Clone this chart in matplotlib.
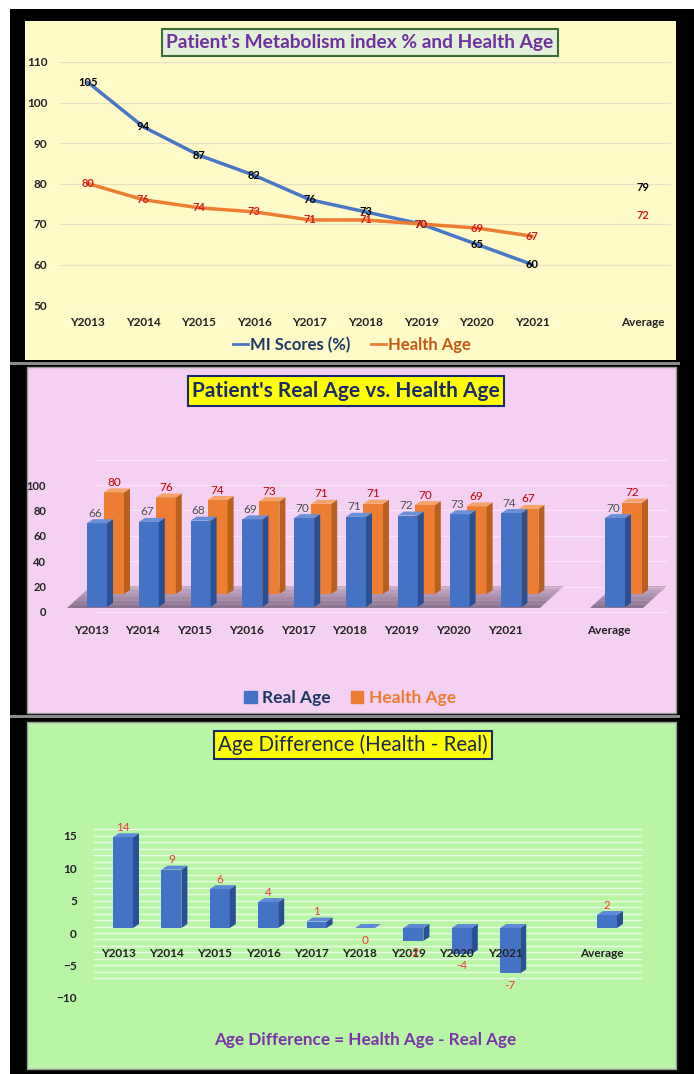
import numpy as np
import matplotlib
matplotlib.use("Agg")
import matplotlib.pyplot as plt
from matplotlib.patches import Rectangle, Polygon, Patch
from matplotlib.lines import Line2D

plt.rcParams["font.family"] = ["Lato", "DejaVu Sans"]

# ---- data ----
years = ["Y2013", "Y2014", "Y2015", "Y2016", "Y2017", "Y2018", "Y2019", "Y2020", "Y2021"]
avg_label = "Average"
mi_scores = [105, 94, 87, 82, 76, 73, 70, 65, 60]
mi_avg = 79
health_age = [80, 76, 74, 73, 71, 71, 70, 69, 67]
health_avg = 72
real_age = [66, 67, 68, 69, 70, 71, 72, 73, 74]
real_avg = 70
age_diff = [h - r for h, r in zip(health_age, real_age)]
diff_avg = health_avg - real_avg

tick_names = years + ["", avg_label]
xpos = list(range(len(years)))
avg_pos = len(years) + 1

W, H = 694, 1074
fig = plt.figure(figsize=(W / 100, H / 100), dpi=100)


def fx(px):
    return px / W


def fy(py):
    return 1 - py / H


def fig_rect(x0, y0, x1, y1, **kw):
    fig.patches.append(Rectangle((fx(x0), fy(y1)), (x1 - x0) / W, (y1 - y0) / H,
                                 transform=fig.transFigure, zorder=-5, **kw))


def axes_px(left, top, right, bottom):
    ax = fig.add_axes([fx(left), fy(bottom), (right - left) / W, (bottom - top) / H])
    ax.patch.set_visible(False)
    for s in ax.spines.values():
        s.set_visible(False)
    return ax


# ---- backgrounds ----
fig_rect(10, 9, 694, 1074, facecolor="black", edgecolor="none")
fig_rect(25, 21, 676, 360, facecolor="#FFFBC9", edgecolor="none")
fig_rect(10, 362, 680, 365, facecolor="#8a8a8a", edgecolor="none")
fig_rect(27, 367, 676, 713, facecolor="#F4D0F2", edgecolor="#9a9a9a", lw=1.0)
fig_rect(10, 715, 680, 718, facecolor="#8a8a8a", edgecolor="none")
fig_rect(27, 722, 676, 1069, facecolor="#B9F5A7", edgecolor="#9a9a9a", lw=1.0)

# =========================================================
# Panel 1: metabolism index and health age lines
# =========================================================
ax1 = axes_px(60, 62, 671, 305)
ax1.set_xlim(-0.5, 10.5)
ax1.set_ylim(50, 110)
ax1.set_yticks(range(50, 111, 10))
ax1.grid(axis="y", color="#E6E2C3", lw=0.9)
ax1.set_axisbelow(True)
ax1.set_xticks(range(len(tick_names)), tick_names)
ax1.tick_params(length=0, labelsize=8.5, colors="#222222")
ax1.tick_params(axis="x", pad=9)
ax1.tick_params(axis="y", pad=9)
for t in ax1.get_xticklabels() + ax1.get_yticklabels():
    t.set_fontweight("bold")

ax1.plot(xpos, mi_scores, color="#4A76C6", lw=2.5, solid_capstyle="round")
ax1.plot(xpos, health_age, color="#ED7D31", lw=2.5, solid_capstyle="round")
for i, v in enumerate(mi_scores):
    ax1.text(i, v, str(v), ha="center", va="center", fontsize=8,
             fontweight="bold", color="black")
for i, v in enumerate(health_age):
    ax1.text(i, v, str(v), ha="center", va="center", fontsize=8,
             fontweight="bold", color="#D02020")
ax1.text(avg_pos, mi_avg, str(mi_avg), ha="center", va="center", fontsize=8,
         fontweight="bold", color="black")
ax1.text(avg_pos, health_avg, str(health_avg), ha="center", va="center", fontsize=8,
         fontweight="bold", color="#D02020")

fig.text(fx(360), fy(42.5), "Patient's Metabolism index % and Health Age",
         ha="center", va="center", fontsize=13.8, fontweight="bold", color="#7030A0",
         bbox=dict(boxstyle="square,pad=0.25", fc="#E2F0D9", ec="#3D6B35", lw=1.5))

fig.legend(handles=[Line2D([], [], color="#4A76C6", lw=2),
                    Line2D([], [], color="#ED7D31", lw=2)],
           labels=["MI Scores (%)", "Health Age"], ncol=2, frameon=False,
           loc="center", bbox_to_anchor=(fx(352), fy(345)),
           handlelength=0.9, handletextpad=0.15, columnspacing=1.2,
           prop=dict(weight="bold", size=12),
           labelcolor=["#1F3864", "#C55A11"])

# =========================================================
# Panel 2: real age vs health age, 3-D style columns
# =========================================================
X0_2, SX_2 = 91.0, 51.8     # px position of first category, px per category
Y0_2, SY_2 = 612.0, 1.27    # px position of value 0, px per value unit
L2, T2, R2, B2 = 60, 440, 672, 614
ax2 = axes_px(L2, T2, R2, B2)
ax2.set_xlim((L2 - X0_2) / SX_2, (R2 - X0_2) / SX_2)
ax2.set_ylim((Y0_2 - B2) / SY_2, (Y0_2 - T2) / SY_2)
ax2.set_yticks(range(0, 101, 20))
ax2.set_xticks(range(len(tick_names)), tick_names)
ax2.tick_params(length=0, labelsize=8.5, colors="#222222")
ax2.tick_params(axis="x", pad=8)
ax2.tick_params(axis="y", pad=10, labelsize=8)
for t in ax2.get_xticklabels() + ax2.get_yticklabels():
    t.set_fontweight("bold")

gx0, gx1 = (95 - X0_2) / SX_2, (668 - X0_2) / SX_2
ax2.hlines(range(0, 121, 20), gx0, gx1, color="white", lw=0.8, alpha=0.45, zorder=0)


def bar3d(ax, xs, vals, width, off, depth, cols, z, sx, sy):
    """Front faces via ax.bar, plus side and top faces offset by a depth vector (px)."""
    ox, oy = off[0] / sx, off[1] / sy
    dx, dy = depth[0] / sx, depth[1] / sy
    xs = np.asarray(xs, dtype=float)
    vals = np.asarray(vals, dtype=float)
    ax.bar(xs + ox, vals, width, bottom=oy, color=cols[0], zorder=z, clip_on=False)
    for xc, v in zip(xs, vals):
        x0 = xc + ox - width / 2
        x1 = x0 + width
        lo, hi = min(oy, oy + v), max(oy, oy + v)
        ax.add_patch(Polygon([(x1, lo), (x1 + dx, lo + dy), (x1 + dx, hi + dy), (x1, hi)],
                             closed=True, fc=cols[1], ec="none", zorder=z, clip_on=False))
        ax.add_patch(Polygon([(x0, hi), (x1, hi), (x1 + dx, hi + dy), (x0 + dx, hi + dy)],
                             closed=True, fc=cols[2], ec="none", zorder=z, clip_on=False))
    return ox, oy


# floor shadow under the columns, darker towards the front
def floor(ax, xa, xb, front_py, back_py, shift_px, sx, sy, y0):
    steps = 6
    for k in range(steps):
        f0 = k / steps
        f1 = (k + 1) / steps
        pa = front_py + (back_py - front_py) * f0
        pb = front_py + (back_py - front_py) * f1
        ya, yb = (y0 - pa) / sy, (y0 - pb) / sy
        sa, sb = shift_px * f0 / sx, shift_px * f1 / sx
        ax.add_patch(Polygon([(xa + sa, ya), (xb + sa, ya), (xb + sb, yb), (xa + sb, yb)],
                             closed=True, fc="#4E3E52", ec="none",
                             alpha=0.62 - 0.07 * k, zorder=0.5, clip_on=False))


floor(ax2, (67 - X0_2) / SX_2, (540 - X0_2) / SX_2, 608, 586, 24, SX_2, SY_2, Y0_2)
floor(ax2, (590 - X0_2) / SX_2, (643 - X0_2) / SX_2, 608, 586, 24, SX_2, SY_2, Y0_2)

bw2 = 20 / SX_2
orange_cols = ("#ED7D31", "#B9601F", "#F4A46A")
blue_cols = ("#4472C4", "#2B4F93", "#6B90D8")
all_x = xpos + [avg_pos]
ox_o, oy_o = bar3d(ax2, all_x, health_age + [health_avg], bw2, (23, 18), (6, 4),
                   orange_cols, 1, SX_2, SY_2)
ox_b, oy_b = bar3d(ax2, all_x, real_age + [real_avg], bw2, (6, 5), (6, 4),
                   blue_cols, 2, SX_2, SY_2)
for xc, v in zip(all_x, health_age + [health_avg]):
    ax2.text(xc + ox_o, oy_o + v + 10 / SY_2, str(v), ha="center", va="center",
             fontsize=8.5, color="#C00000", zorder=3)
for xc, v in zip(all_x, real_age + [real_avg]):
    ax2.text(xc + ox_b - 2 / SX_2, oy_b + v + 10 / SY_2, str(v), ha="center", va="center",
             fontsize=8.5, color="#505050", zorder=3)

fig.text(fx(346), fy(391), "Patient's Real Age vs. Health Age",
         ha="center", va="center", fontsize=15, fontweight="bold", color="#1B2A6B",
         bbox=dict(boxstyle="square,pad=0.22", fc="#FFFF00", ec="#1B2A6B", lw=1.5))

fig.legend(handles=[Patch(color="#4472C4"), Patch(color="#ED7D31")],
           labels=["Real Age", "Health Age"], ncol=2, frameon=False,
           loc="center", bbox_to_anchor=(fx(350), fy(698)),
           handlelength=0.7, handleheight=0.7, handletextpad=0.3, columnspacing=1.2,
           prop=dict(weight="bold", size=12.5),
           labelcolor=["#1F3864", "#ED7D31"])

# =========================================================
# Panel 3: age difference columns
# =========================================================
X0_3, SX_3 = 118.0, 48.4
Y0_3, SY_3 = 933.0, 6.48
L3, T3, R3, B3 = 88, 812, 650, 1005
ax3 = axes_px(L3, T3, R3, B3)
ax3.set_xlim((L3 - X0_3) / SX_3, (R3 - X0_3) / SX_3)
ax3.set_ylim((Y0_3 - B3) / SY_3, (Y0_3 - T3) / SY_3)
ax3.set_yticks(range(-10, 16, 5))
ax3.set_xticks(range(len(tick_names)), tick_names)
ax3.spines["bottom"].set_position(("data", 0))
ax3.tick_params(length=0, labelsize=8.5, colors="#222222")
ax3.tick_params(axis="x", pad=11)
ax3.tick_params(axis="y", pad=8)
for t in ax3.get_xticklabels() + ax3.get_yticklabels():
    t.set_fontweight("bold")

gx0, gx1 = (93 - X0_3) / SX_3, (642 - X0_3) / SX_3
ax3.hlines(range(-7, 17), gx0, gx1, color="white", lw=1.0, alpha=0.65, zorder=0)

bw3 = 20 / SX_3
diff_cols = ("#4472C4", "#2B4F93", "#5F88D8")
ox_d, oy_d = bar3d(ax3, all_x, age_diff + [diff_avg], bw3, (5, 5), (6, 4),
                   diff_cols, 1, SX_3, SY_3)
for xc, v in zip(all_x, age_diff + [diff_avg]):
    if v > 0:
        yl = oy_d + v + 10 / SY_3
    else:
        yl = oy_d + v - 12 / SY_3
    ax3.text(xc + ox_d, yl, str(v), ha="center", va="center", fontsize=8.5,
             color="#F03A3A", zorder=2)

fig.text(fx(353), fy(745), "Age Difference (Health - Real)",
         ha="center", va="center", fontsize=14.8, color="#1A2850",
         bbox=dict(boxstyle="square,pad=0.2", fc="#FFFF00", ec="#1B2A6B", lw=1.5))
fig.text(fx(365), fy(1040), "Age Difference = Health Age - Real Age",
         ha="center", va="center", fontsize=12.3, fontweight="bold", color="#7A35A8")

fig.savefig("out.png", dpi=100, facecolor="white")
